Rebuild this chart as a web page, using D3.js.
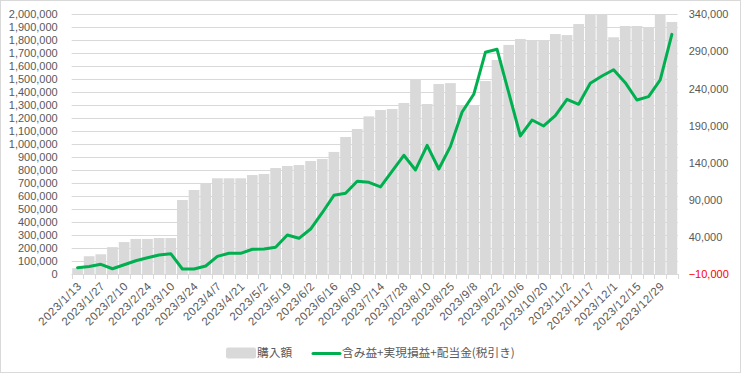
<!DOCTYPE html>
<html>
<head>
    <meta charset="utf-8">
    <title>購入額と損益の推移</title>
    <style>
        body { margin: 0; background: #fff; }
        svg { display: block; }
    </style>
</head>
<body>
    <script src="https://cdn.jsdelivr.net/npm/d3@7"></script>
    <svg id="chart" width="741" height="373"></svg>

    <script>
        // data (weekly)
        var dates = ["2023/1/13", "2023/1/20", "2023/1/27", "2023/2/3", "2023/2/10", "2023/2/17",
                     "2023/2/24", "2023/3/3", "2023/3/10", "2023/3/17", "2023/3/24", "2023/3/31",
                     "2023/4/7", "2023/4/14", "2023/4/21", "2023/4/28", "2023/5/2", "2023/5/12",
                     "2023/5/19", "2023/5/26", "2023/6/2", "2023/6/9", "2023/6/16", "2023/6/23",
                     "2023/6/30", "2023/7/7", "2023/7/14", "2023/7/21", "2023/7/28", "2023/8/4",
                     "2023/8/10", "2023/8/18", "2023/8/25", "2023/9/1", "2023/9/8", "2023/9/15",
                     "2023/9/22", "2023/9/29", "2023/10/6", "2023/10/13", "2023/10/20", "2023/10/27",
                     "2023/11/2", "2023/11/10", "2023/11/17", "2023/11/24", "2023/12/1", "2023/12/8",
                     "2023/12/15", "2023/12/22", "2023/12/29", "2024/1/5"];

        var purchase = [45000, 137000, 152000, 207000, 246000, 270000, 270000, 277000, 277000, 570000,
                        647000, 695000, 737000, 737000, 737000, 762000, 770000, 816000, 832000, 839000,
                        870000, 886000, 940000, 1055000, 1117000, 1214000, 1263000, 1271000, 1317000, 1494000,
                        1309000, 1463000, 1470000, 1298000, 1298000, 1486000, 1648000, 1764000, 1810000, 1800000,
                        1798000, 1848000, 1840000, 1925000, 2000000, 1995000, 1823000, 1910000, 1910000, 1897000,
                        1995000, 1941000];

        var profit = [-1500, 200, 3100, -2900, 2500, 7900, 12000, 15600, 17400, -3300,
                      -3300, 800, 13800, 17900, 17900, 23300, 23700, 26000, 42600, 38100,
                      50600, 72600, 96000, 98800, 115000, 113600, 107300, 128800, 150000, 130200,
                      163400, 131500, 162000, 208300, 232200, 288800, 292800, 234300, 176000, 197500,
                      189500, 203400, 225400, 218700, 247000, 256800, 265300, 247800, 224500, 229000,
                      251500, 313000];

        var leftTicks = [0, 100000, 200000, 300000, 400000, 500000, 600000, 700000, 800000, 900000,
                         1000000, 1100000, 1200000, 1300000, 1400000, 1500000, 1600000, 1700000,
                         1800000, 1900000, 2000000];
        var rightTicks = [-10000, 40000, 90000, 140000, 190000, 240000, 290000, 340000];

        var seriesNames = ["購入額", "含み益+実現損益+配当金(税引き)"];

        var svg = d3.select("#chart"),
            width = +svg.attr("width"),
            height = +svg.attr("height");

        var plotLeft = 71.7, plotRight = 677.7, plotTop = 14.3, plotBottom = 274;
        var textColor = "#595959",
            gridColor = "#d9d9d9",
            barColor = "#d9d9d9",
            lineColor = "#00b050";
        var numFont = "'Liberation Sans', Arial, sans-serif";
        var jpFont = "'Noto Sans CJK JP', sans-serif";

        // chart border
        svg.append("rect")
           .attr("x", 0.5).attr("y", 0.5)
           .attr("width", width - 1).attr("height", height - 1)
           .attr("fill", "#fff")
           .attr("stroke", gridColor);

        // scales
        var x = d3.scaleBand()
                  .domain(dates)
                  .range([plotLeft, plotRight])
                  .paddingInner(0.08)
                  .paddingOuter(0.04);

        var xCat = d3.scaleBand().domain(dates).range([plotLeft, plotRight]);

        var yL = d3.scaleLinear().domain([0, 2000000]).range([plotBottom, plotTop]);
        var yR = d3.scaleLinear().domain([-10000, 340000]).range([plotBottom, plotTop]);

        // gridlines
        svg.append("g")
           .selectAll("line")
           .data(leftTicks)
           .enter().append("line")
           .attr("x1", plotLeft).attr("x2", plotRight)
           .attr("y1", function(d) { return Math.round(yL(d)) + 0.5; })
           .attr("y2", function(d) { return Math.round(yL(d)) + 0.5; })
           .attr("stroke", gridColor);

        // bars
        svg.append("g")
           .selectAll("rect")
           .data(purchase)
           .enter().append("rect")
           .attr("x", function(d, i) { return x(dates[i]); })
           .attr("width", x.bandwidth())
           .attr("y", function(d) { return yL(d); })
           .attr("height", function(d) { return yL(0) - yL(d); })
           .attr("fill", barColor);

        // category axis
        var xAxis = svg.append("g");
        xAxis.append("line")
             .attr("x1", plotLeft).attr("x2", plotRight)
             .attr("y1", plotBottom + 0.5).attr("y2", plotBottom + 0.5)
             .attr("stroke", gridColor);
        xAxis.selectAll(".tick")
             .data(dates.concat(["end"]))
             .enter().append("line")
             .attr("x1", function(d, i) { return Math.round(plotLeft + i * xCat.step()) + 0.5; })
             .attr("x2", function(d, i) { return Math.round(plotLeft + i * xCat.step()) + 0.5; })
             .attr("y1", plotBottom).attr("y2", plotBottom + 5)
             .attr("stroke", gridColor);
        xAxis.selectAll("text")
             .data(dates.filter(function(d, i) { return i % 2 == 0; }))
             .enter().append("text")
             .attr("transform", function(d) {
                 return "translate(" + (xCat(d) + xCat.bandwidth() / 2 + 2) + "," + (plotBottom + 10) + ") rotate(-45)";
             })
             .attr("text-anchor", "end")
             .attr("dy", "0.35em")
             .attr("fill", textColor)
             .style("font-family", numFont)
             .style("font-size", "11.5px")
             .style("letter-spacing", "0.5px")
             .text(function(d) { return d; });

        // left axis
        var fmt = d3.format(",");
        svg.append("g")
           .attr("transform", "translate(" + (plotLeft - 14) + ",0)")
           .call(d3.axisLeft(yL).tickValues(leftTicks).tickFormat(fmt).tickSize(0).tickPadding(0))
           .call(function(g) { g.select(".domain").remove(); })
           .selectAll("text")
           .attr("fill", textColor)
           .style("font-family", numFont)
           .style("font-size", "11px");

        // right axis
        svg.append("g")
           .attr("transform", "translate(" + (plotRight + 11) + ",0)")
           .call(d3.axisRight(yR).tickValues(rightTicks).tickFormat(fmt).tickSize(0).tickPadding(0))
           .call(function(g) { g.select(".domain").remove(); })
           .selectAll("text")
           .attr("fill", function(d) { return d < 0 ? "#ff0000" : textColor; })
           .style("font-family", numFont)
           .style("font-size", "11px");

        // line
        var line = d3.line()
                     .x(function(d, i) { return xCat(dates[i]) + xCat.bandwidth() / 2; })
                     .y(function(d) { return yR(d); });

        svg.append("path")
           .datum(profit)
           .attr("d", line)
           .attr("fill", "none")
           .attr("stroke", lineColor)
           .attr("stroke-width", 3)
           .attr("stroke-linejoin", "round")
           .attr("stroke-linecap", "round");

        // legend
        var legend = svg.append("g")
                        .style("font-family", jpFont)
                        .style("font-size", "11.7px")
                        .attr("fill", textColor);

        legend.append("rect")
              .attr("x", 226).attr("y", 347.5)
              .attr("width", 30).attr("height", 11)
              .attr("rx", 2)
              .attr("fill", barColor);
        legend.append("text")
              .attr("x", 257).attr("y", 353)
              .attr("dy", "0.35em")
              .text(seriesNames[0]);

        legend.append("line")
              .attr("x1", 313).attr("x2", 340)
              .attr("y1", 353.5).attr("y2", 353.5)
              .attr("stroke", lineColor)
              .attr("stroke-width", 3)
              .attr("stroke-linecap", "round");
        legend.append("text")
              .attr("x", 342).attr("y", 353)
              .attr("dy", "0.35em")
              .text(seriesNames[1]);
    </script>
</body>
</html>
